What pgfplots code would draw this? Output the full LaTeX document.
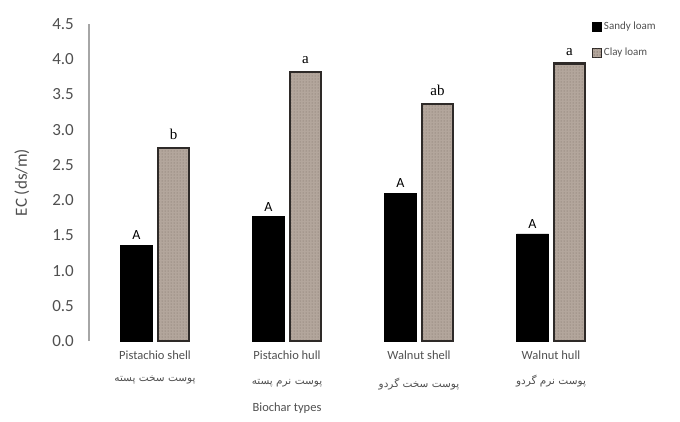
\documentclass[border=0pt]{standalone}
\usepackage{fontspec}
\setmainfont{Carlito}
\newfontfamily\persianfont[Script=Arabic]{DejaVu Sans}
\newfontfamily\letterfont{Liberation Serif}
\TeXXeTstate=1
\usepackage{pgfplots}
\pgfplotsset{compat=1.18}
\usetikzlibrary{patterns}

\definecolor{txtgray}{HTML}{505050}
\definecolor{axgray}{HTML}{A6A6A6}
\definecolor{clayfill}{HTML}{B3A69C}
\definecolor{claydot}{HTML}{7A6B62}
\definecolor{clayedge}{HTML}{2E2A28}

\newcommand{\fafont}{\persianfont\fontsize{10.5}{12}\selectfont}

\pgfplotstableread{
x sandy clay
0 1.36 2.74
1 1.77 3.82
2 2.10 3.37
3 1.52 3.94
}\ecdata

\begin{document}
\begin{tikzpicture}[x=1pt,y=1pt]
\path[use as bounding box] (0,0) rectangle (680,421);
\begin{axis}[
  at={(89pt,80pt)}, anchor=south west,
  scale only axis, width=541.2pt, height=317pt,
  xmin=-0.5, xmax=3.6, ymin=0, ymax=4.5,
  clip=false,
  axis y line=left, axis x line=bottom,
  axis line style={-},
  x axis line style={draw=none},
  y axis line style={axgray, line width=1.3pt},
  major tick length=0pt,
  ytick={0,0.5,1,1.5,2,2.5,3,3.5,4,4.5},
  yticklabel style={/pgf/number format/.cd, fixed, fixed zerofill, precision=1,
    assume math mode=true, /tikz/.cd,
    font=\fontsize{17}{19}\selectfont, text=txtgray, anchor=east, inner sep=0pt, xshift=-15pt},
  xtick={0,1,2,3},
  xticklabels={
    {Pistachio shell\\[8pt]{\fafont\beginR پوست سخت پسته\endR}},
    {Pistachio hull\\[11pt]{\fafont\beginR پوست نرم پسته\endR}},
    {Walnut shell\\[14pt]{\fafont\beginR پوست سخت گردو\endR}},
    {Walnut hull\\[11pt]{\fafont\beginR پوست نرم گردو\endR}}},
  xticklabel style={align=center, anchor=north, inner sep=0pt, yshift=-10pt,
    font=\fontsize{12.5}{14}\selectfont, text=txtgray},
  ylabel={EC (ds/m)},
  ylabel style={at={(axis description cs:-0.124,0.5)}, anchor=center, rotate=0,
    font=\fontsize{17}{19}\selectfont, text=txtgray},
  ybar, bar width=32pt,
  legend style={at={(axis description cs:0.929,1.013)}, anchor=north west,
    draw=none, fill=none, inner sep=0pt, row sep=13pt,
    font=\fontsize{11}{13}\selectfont, text=txtgray,
    cells={anchor=west}},
]
% Sandy loam
\addplot[fill=black, draw=black, bar shift=-18.5pt,
  point meta=explicit symbolic, nodes near coords,
  legend image code/.code={\draw[fill=black,draw=black] (0pt,-4.5pt) rectangle (9pt,4.5pt);},
  every node near coord/.append style={font=\fontsize{14}{16}\selectfont, text=black,
    anchor=south, yshift=5pt, inner sep=0pt}]
  coordinates {(0,1.36) [A] (1,1.77) [A] (2,2.10) [A] (3,1.52) [A]};
\addlegendentry{Sandy loam}
% Clay loam: speckled fill
\addplot[draw=none, fill=clayfill, bar shift=18.5pt,
  postaction={pattern=dots, pattern color=claydot},
  point meta=explicit symbolic, nodes near coords,
  legend image code/.code={\draw[draw=clayedge,line width=1pt,
    preaction={fill=clayfill}, pattern=dots, pattern color=claydot] (0pt,-4.5pt) rectangle (9pt,4.5pt);},
  every node near coord/.append style={font=\letterfont\fontsize{15}{17}\selectfont, text=black,
    anchor=south, yshift=8pt, inner sep=0pt}]
  coordinates {(0,2.74) [b] (1,3.82) [a] (2,3.37) [ab] (3,3.94) [a]};
\addlegendentry{Clay loam}
% Clay loam: dark outline over the speckled fill
\addplot[forget plot, draw=clayedge, fill=none, line width=2.2pt, bar shift=18.5pt, bar width=31pt]
  table[x=x, y=clay] {\ecdata};
\node[font=\fontsize{12.5}{14}\selectfont, text=txtgray] at (axis cs:1,0) [yshift=-67pt] {Biochar types};
\end{axis}
\end{tikzpicture}
\end{document}
